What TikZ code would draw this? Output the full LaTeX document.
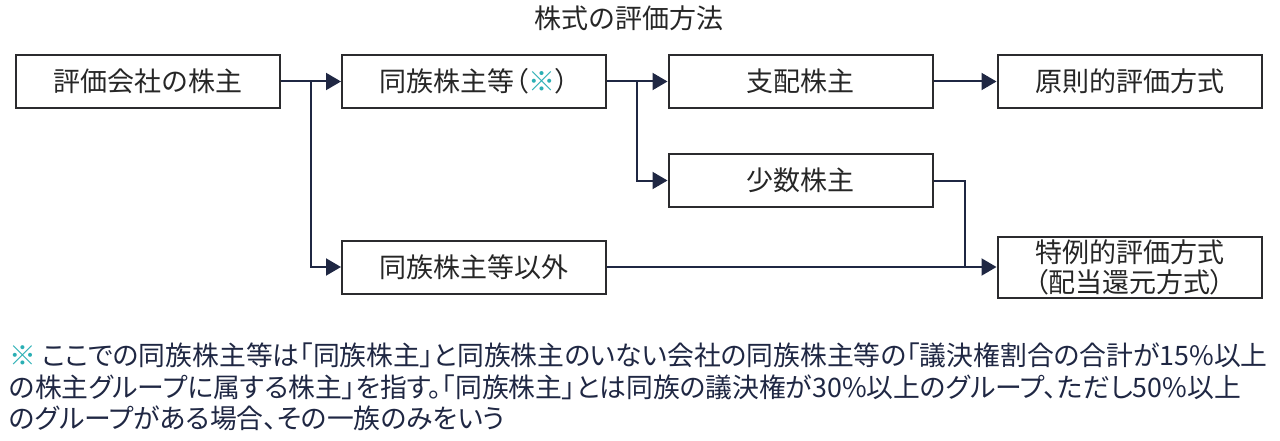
\documentclass[tikz,border=0pt]{standalone}
\usepackage{fontspec}
\setmainfont{Noto Sans CJK JP}
\newfontfamily\jpp[RawFeature=+palt]{Noto Sans CJK JP}
\usetikzlibrary{arrows.meta}
\definecolor{navy}{HTML}{1F2743}
\definecolor{boxline}{HTML}{2B2B2E}
\definecolor{teal}{HTML}{2AAFB4}
\tikzset{
  box/.style={draw=boxline,line width=2pt,minimum width=264pt,minimum height=53pt,inner sep=0pt,font=\jpp\fontsize{27}{30}\selectfont,text=black!85,align=center},
  conn/.style={draw=navy,line width=2pt},
  arr/.style={conn,-{Triangle[length=15pt,width=17pt]}},
  note/.style={anchor=west,inner sep=0pt,font=\jpp\fontsize{26.8}{30}\selectfont,text=navy}
}
\begin{document}
\begin{tikzpicture}[x=1pt,y=-1pt]
\useasboundingbox (0,0) rectangle (1280,441);
\node[font=\fontsize{27}{30}\selectfont,text=black!85] (title) at (628.5,18) {株式の評価方法};
\node[box] (b1) at (148,81.5) {評価会社の株主};
\node[box] (b2) at (474,81.5) {同族株主等（\textcolor{teal}{※}）};
\node[box] (b3) at (800.5,81.5) {支配株主};
\node[box] (b4) at (1129.5,81.5) {原則的評価方式};
\node[box] (b5) at (800.5,180.5) {少数株主};
\node[box] (b6) at (474,267) {同族株主等以外};
\node[box,minimum height=61pt,font=\jpp\fontsize{27}{30}\selectfont] (b7) at (1129.5,267) {特例的評価方式\\（配当還元方式）};
\coordinate (j1) at (311,81.5);
\coordinate (j2) at (637,81.5);
\coordinate (j3) at (965,267);
\draw[conn] (b1.east) -- (j1);
\draw[arr] (j1) -- (b2.west);
\draw[arr] (j1) |- (b6.west);
\draw[conn] (b2.east) -- (j2);
\draw[arr] (j2) -- (b3.west);
\draw[arr] (j2) |- (b5.west);
\draw[arr] (b3.east) -- (b4.west);
\draw[arr] (b6.east) -- (b7.west);
\draw[conn] (b5.east) -| (j3);
\node[note] (n1) at (9,355) {\textcolor{teal}{※} ここでの同族株主等は「同族株主」と同族株主のいない会社の同族株主等の「議決権割合の合計が15\%以上};
\node[note] (n2) at (9,387) {の株主グループに属する株主」を指す。「同族株主」とは同族の議決権が30\%以上のグループ、ただし50\%以上};
\node[note] (n3) at (9,418) {のグループがある場合、その一族のみをいう};
\end{tikzpicture}
\end{document}
